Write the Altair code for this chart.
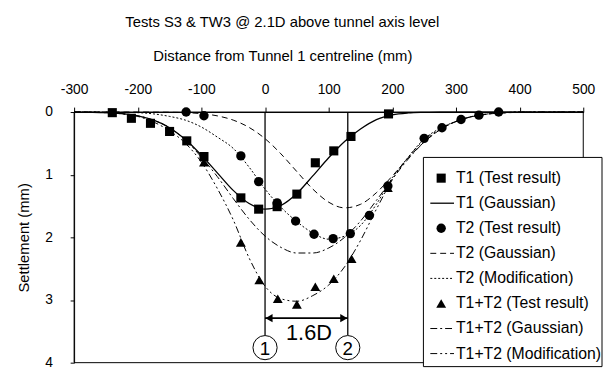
import altair as alt
import pandas as pd

FONT = "Liberation Sans"

# ---------------- data ----------------
grid_x = [-300, -250, -225, -200, -175, -150, -125, -100, -75, -50, -25, 0, 25, 50, 75,
          100, 125, 150, 175, 200, 225, 250, 275, 300, 325, 350, 375, 400, 500]

t1_gauss = [0, 0.01, 0.025, 0.06, 0.13, 0.25, 0.44, 0.69, 0.97, 1.25, 1.46, 1.55, 1.49, 1.30, 1.02,
            0.73, 0.47, 0.27, 0.12, 0.045, 0.015, 0.005, 0, 0, 0, 0, 0, 0, 0]
t2_gauss = [0, 0, 0, 0, 0.002, 0.004, 0.01, 0.026, 0.061, 0.129, 0.246, 0.425, 0.668, 0.951, 1.229,
            1.439, 1.529, 1.473, 1.287, 1.02, 0.734, 0.478, 0.283, 0.152, 0.074, 0.033, 0.013, 0.005, 0]
t2_mod = [0, 0, 0.005, 0.01, 0.03, 0.07, 0.13, 0.24, 0.40, 0.58, 0.88, 1.23, 1.52, 1.75, 1.93,
          2.03, 1.98, 1.81, 1.47, 1.05, 0.72, 0.43, 0.26, 0.15, 0.07, 0.03, 0.01, 0, 0]
t12_gauss = [0, 0.01, 0.025, 0.06, 0.13, 0.25, 0.45, 0.72, 1.03, 1.38, 1.71, 1.98, 2.16, 2.25, 2.25,
             2.17, 2.00, 1.74, 1.41, 1.07, 0.75, 0.48, 0.28, 0.15, 0.074, 0.033, 0.013, 0.005, 0]
t12_mod = [0, 0.01, 0.03, 0.07, 0.16, 0.30, 0.50, 0.80, 1.22, 1.72, 2.33, 2.78, 2.98, 3.02, 2.93,
           2.76, 2.47, 2.05, 1.55, 1.08, 0.72, 0.45, 0.27, 0.15, 0.07, 0.03, 0.01, 0, 0]

t1_x = [-240, -210, -180, -150, -123, -96, -38, -10, 19, 50, 79, 108, 135, 194]
t1_y = [0.01, 0.10, 0.18, 0.31, 0.46, 0.71, 1.37, 1.55, 1.51, 1.31, 0.81, 0.62, 0.39, 0.03]
t2_x = [-124, -96, -38, -10, 19, 48, 77, 107, 134, 164, 193, 250, 278, 308, 336, 367]
t2_y = [0.0, 0.06, 0.70, 1.11, 1.45, 1.74, 1.95, 2.02, 1.94, 1.65, 1.18, 0.42, 0.25, 0.12, 0.05, 0.0]
t12_x = [-96, -38, -9, 20, 50, 79, 108, 136, 193]
t12_y = [0.80, 2.08, 2.68, 2.98, 3.07, 2.79, 2.66, 2.34, 1.21]

tunnel_x = [0, 130]
tunnel_labels = ["1", "2"]
tunnel_line_end = 3.56
arrow_y = 3.29
circle_y = 3.76
spacing_label = "1.6D"
spacing_label_pos = (69, 3.53)

x_ticks = [-300, -200, -100, 0, 100, 200, 300, 400, 500]
y_ticks = [0, 1, 2, 3, 4]

title_text = "Tests S3 & TW3 @ 2.1D above tunnel axis level"
x_title = "Distance from Tunnel 1 centreline (mm)"
y_title = "Settlement (mm)"

legend_labels = ["T1 (Test result)", "T1 (Gaussian)", "T2 (Test result)", "T2 (Gaussian)",
                 "T2 (Modification)", "T1+T2 (Test result)", "T1+T2 (Gaussian)",
                 "T1+T2 (Modification)"]

# ---------------- styles ----------------
W, H = 516, 254
line_styles = {
    "T1 (Gaussian)": dict(strokeWidth=1.3),
    "T2 (Gaussian)": dict(strokeWidth=1, strokeDash=[6, 4]),
    "T2 (Modification)": dict(strokeWidth=1, strokeDash=[2, 2]),
    "T1+T2 (Gaussian)": dict(strokeWidth=1, strokeDash=[7, 3, 2, 3]),
    "T1+T2 (Modification)": dict(strokeWidth=1, strokeDash=[7, 3, 2, 3, 2, 3]),
}
marker_styles = {
    "T1 (Test result)": dict(shape="square", size=85),
    "T2 (Test result)": dict(shape="circle", size=90),
    "T1+T2 (Test result)": dict(shape="triangle-up", size=100),
}

label_expr = "datum.value < 0 ? '-' + abs(datum.value) : '' + datum.value"
axis_common = dict(labelFont=FONT, titleFont=FONT, labelFontSize=14, titleFontSize=15,
                   titleFontWeight="normal", labelColor="black", titleColor="black",
                   tickColor="black", domainColor="black", grid=False, labelExpr=label_expr,
                   titleBaseline="middle", titleAlign="center")
x_scale = alt.Scale(domain=[-300, 500], nice=False, zero=False)
y_scale = alt.Scale(domain=[0, 4], reverse=True, nice=False, zero=False)
x_axis = alt.Axis(orient="top", values=x_ticks, title=x_title, titleX=211, titleY=-57,
                  labelPadding=11, tickSize=5, labelFlush=False, labelOverlap=False, **axis_common)
y_axis = alt.Axis(orient="left", values=y_ticks, title=y_title, titleX=-51, titleY=127,
                  labelPadding=18, tickSize=4, **axis_common)


def X(f="x"):
    return alt.X(f"{f}:Q", scale=x_scale, axis=x_axis)


def Y(f="y"):
    return alt.Y(f"{f}:Q", scale=y_scale, axis=y_axis)


one = pd.DataFrame({"a": [0]})
layers = []

# plot frame
layers.append(alt.Chart(one).mark_rect(fillOpacity=0, stroke="black", strokeWidth=1).encode(
    x=alt.value(0), x2=alt.value(W), y=alt.value(0), y2=alt.value(H)))

# curves
curves = [("T1 (Gaussian)", t1_gauss), ("T2 (Gaussian)", t2_gauss), ("T2 (Modification)", t2_mod),
          ("T1+T2 (Gaussian)", t12_gauss), ("T1+T2 (Modification)", t12_mod)]
for name, vals in curves:
    df = pd.DataFrame({"x": grid_x, "y": vals})
    layers.append(alt.Chart(df).mark_line(color="black", interpolate="monotone",
                                          **line_styles[name]).encode(x=X(), y=Y()))

# tunnel centrelines
tdf = pd.DataFrame({"x": tunnel_x, "y0": [0, 0], "y1": [tunnel_line_end] * 2,
                    "yc": [circle_y] * 2, "t": tunnel_labels})
layers.append(alt.Chart(tdf).mark_rule(color="black", strokeWidth=1.3).encode(
    x=X(), y=Y("y0"), y2=alt.Y2("y1")))

# test results
markers = [("T1 (Test result)", t1_x, t1_y), ("T2 (Test result)", t2_x, t2_y),
           ("T1+T2 (Test result)", t12_x, t12_y)]
for name, xv, yv in markers:
    df = pd.DataFrame({"x": xv, "y": yv})
    layers.append(alt.Chart(df).mark_point(filled=True, color="black", opacity=1,
                                           **marker_styles[name]).encode(x=X(), y=Y()))

# dimension arrow
adf = pd.DataFrame({"x": [tunnel_x[0]], "x2": [tunnel_x[1]], "y": [arrow_y]})
layers.append(alt.Chart(adf).mark_rule(color="black", strokeWidth=1.8).encode(
    x=X(), x2=alt.X2("x2"), y=Y()))
layers.append(alt.Chart(pd.DataFrame({"x": [tunnel_x[0]], "y": [arrow_y]})).mark_point(
    shape="triangle-left", filled=True, color="black", opacity=1, size=70, xOffset=4).encode(x=X(), y=Y()))
layers.append(alt.Chart(pd.DataFrame({"x": [tunnel_x[1]], "y": [arrow_y]})).mark_point(
    shape="triangle-right", filled=True, color="black", opacity=1, size=70, xOffset=-4).encode(x=X(), y=Y()))

# numbered circles
layers.append(alt.Chart(tdf).mark_point(shape="circle", size=600, filled=True, fill="white",
                                        stroke="black", strokeWidth=1, opacity=1).encode(x=X(), y=Y("yc")))
layers.append(alt.Chart(tdf).mark_text(font=FONT, fontSize=19, align="center", baseline="middle",
                                       dy=1, color="black").encode(x=X(), y=Y("yc"), text="t:N"))
layers.append(alt.Chart(pd.DataFrame({"x": [spacing_label_pos[0]], "y": [spacing_label_pos[1]],
                                      "t": [spacing_label]})).mark_text(
    font=FONT, fontSize=22, align="center", baseline="middle", color="black").encode(
    x=X(), y=Y(), text="t:N"))

# legend
layers.append(alt.Chart(one).mark_rect(fill="white", stroke="black", strokeWidth=1).encode(
    x=alt.value(354), x2=alt.value(535), y=alt.value(46), y2=alt.value(258)))
for i, lab in enumerate(legend_labels):
    ry = 67 + 25.4 * i
    if lab in marker_styles:
        layers.append(alt.Chart(one).mark_point(filled=True, color="black", opacity=1,
                                                **marker_styles[lab]).encode(
            x=alt.value(372), y=alt.value(ry)))
    else:
        layers.append(alt.Chart(one).mark_rule(color="black", **line_styles[lab]).encode(
            x=alt.value(361), x2=alt.value(385), y=alt.value(ry)))
    layers.append(alt.Chart(pd.DataFrame({"t": [lab]})).mark_text(
        font=FONT, fontSize=16, align="left", baseline="middle", color="black").encode(
        x=alt.value(387), y=alt.value(ry), text="t:N"))

# main title
layers.append(alt.Chart(pd.DataFrame({"t": [title_text]})).mark_text(
    font=FONT, fontSize=15, align="center", baseline="middle", color="black").encode(
    x=alt.value(211), y=alt.value(-91), text="t:N"))

chart = alt.layer(*layers).properties(
    width=W, height=H,
    autosize=alt.AutoSizeParams(type="none"),
    padding={"left": 67, "top": 103, "right": 20, "bottom": 5},
    background="white",
).configure_view(stroke=None)

chart.save("out.html", embed_options={"renderer": "svg", "actions": False})
